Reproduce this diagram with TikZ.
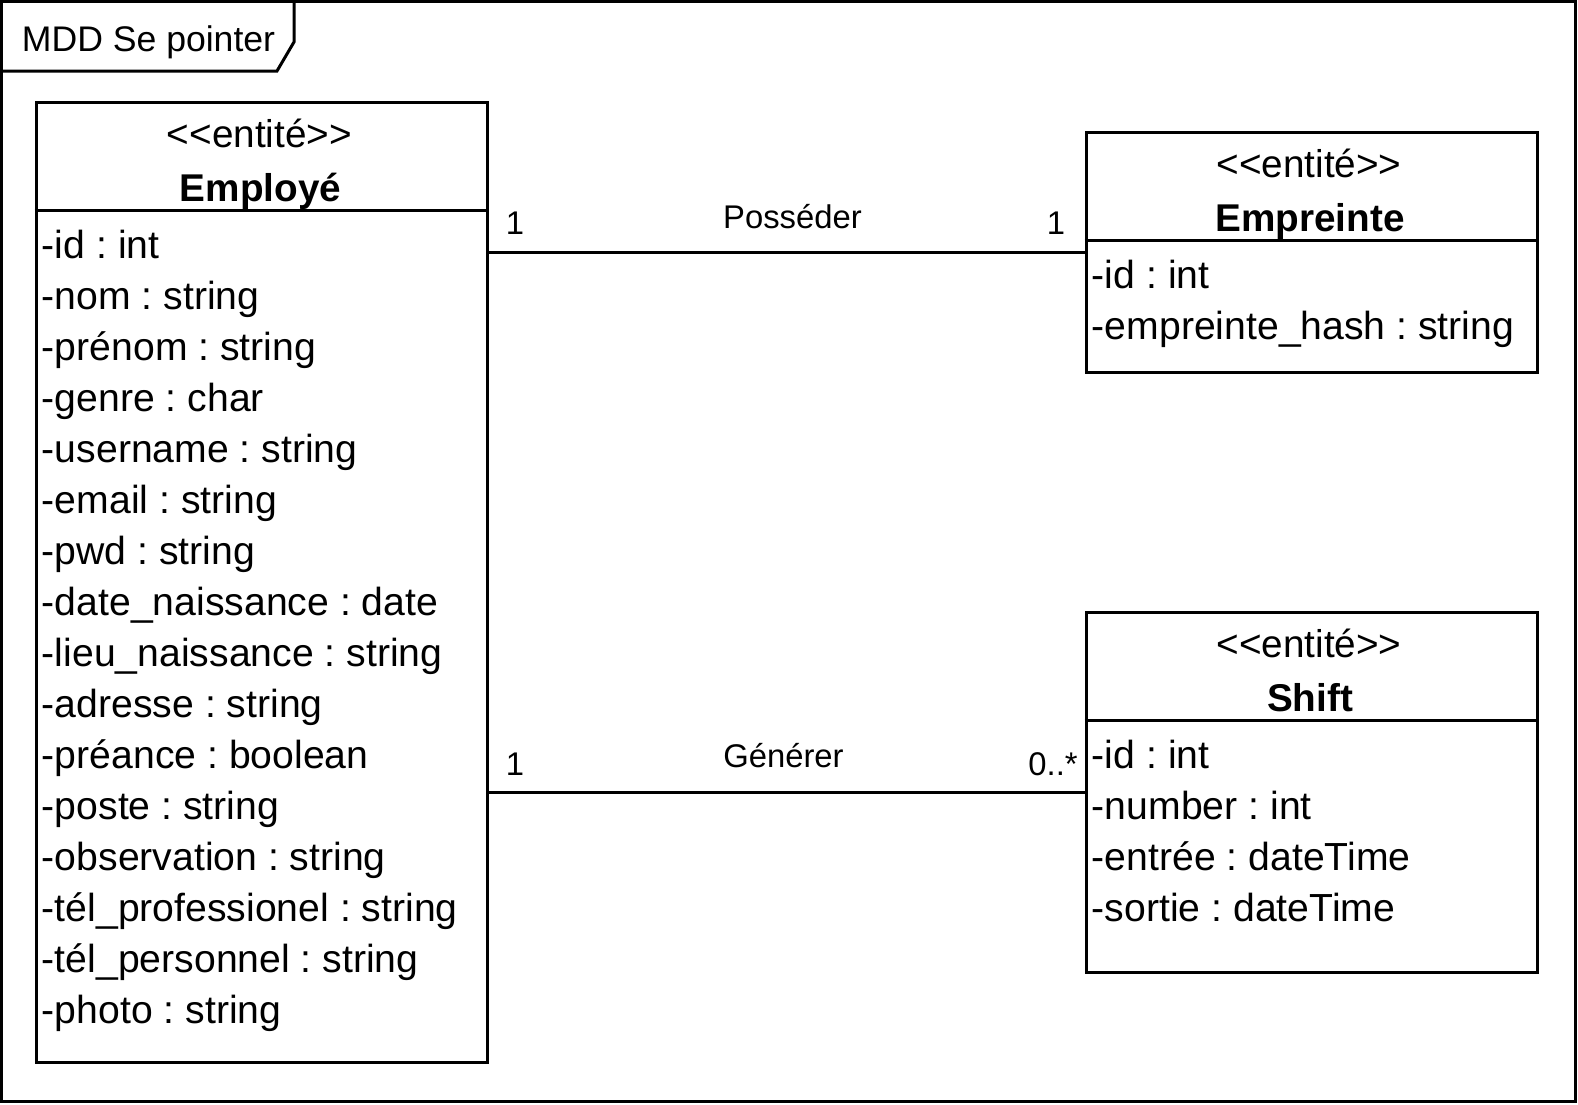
\documentclass[tikz,border=0pt]{standalone}
\usepackage{fontspec}
\setmainfont{Liberation Sans}
\newcommand{\ster}{<\kern0pt<entité>\kern0pt>}
\tikzset{
  box/.style={draw, line width=1.5pt, rectangle, inner sep=0pt},
  frameline/.style={line width=1.5pt},
  attr/.style={anchor=base west, inner sep=0pt, font=\fontsize{19.58pt}{23pt}\selectfont},
  stertext/.style={anchor=base, inner sep=0pt, font=\fontsize{19.35pt}{23pt}\selectfont},
  cname/.style={anchor=base, inner sep=0pt, font=\fontsize{19.35pt}{23pt}\selectfont\bfseries},
  lbl/.style={anchor=base, inner sep=0pt, font=\fontsize{16.4pt}{20pt}\selectfont},
  tabtext/.style={anchor=base west, inner sep=0pt, font=\fontsize{17.8pt}{21pt}\selectfont},
  conn/.style={line width=1.5pt},
}
\begin{document}
\frenchspacing
\begin{tikzpicture}[x=0.5pt,y=-0.5pt]
\useasboundingbox (0,0) rectangle (1578,1104);
% outer frame
\draw[frameline] (1.5,1.5) rectangle (1575.5,1101.5);
\draw[frameline] (1.5,71) -- (277,71) -- (294,42) -- (294,1.5);
\node[tabtext] (tab) at (21.5,51) {MDD Se pointer};

% Employe
\node[box, minimum width=225.5pt, minimum height=480pt] (employe) at (261.5,582) {};
\draw[frameline] (employe.west |- 0,210) -- (employe.east |- 0,210);
\node[stertext] (es) at (259.5,147.5) {\ster};
\node[cname] (en) at (260.5,201.5) {Employé};
\foreach \t [count=\i from 0] in {{-id : int},{-nom : string},{-prénom : string},{-genre : char},{-username : string},{-email : string},{-pwd : string},{-date\_naissance : date},{-lieu\_naissance : string},{-adresse : string},{-préance : boolean},{-poste : string},{-observation : string},{-tél\_professionel : string},{-tél\_personnel : string},{-photo : string}}
  \node[attr] (ea\i) at (41.5,258+51*\i) {\t};

% Empreinte
\node[box, minimum width=225.5pt, minimum height=120pt] (empreinte) at (1311.5,252) {};
\draw[frameline] (empreinte.west |- 0,240.5) -- (empreinte.east |- 0,240.5);
\node[stertext] (ps) at (1309,177.5) {\ster};
\node[cname] (pn) at (1310,231.5) {Empreinte};
\node[attr] (pa0) at (1091.5,288) {-id : int};
\node[attr] (pa1) at (1091.5,339) {-empreinte\_hash : string};

% Shift
\node[box, minimum width=225.5pt, minimum height=180pt] (shift) at (1311.5,792) {};
\draw[frameline] (shift.west |- 0,720.5) -- (shift.east |- 0,720.5);
\node[stertext] (ss) at (1309,657.5) {\ster};
\node[cname] (sn) at (1310,711.5) {Shift};
\foreach \t [count=\i from 0] in {{-id : int},{-number : int},{-entrée : dateTime},{-sortie : dateTime}}
  \node[attr] (sa\i) at (1091.5,768+51*\i) {\t};

% connectors
\draw[conn] (employe.east |- empreinte.west) -- (empreinte.west);
\draw[conn] (employe.east |- shift.west) -- (shift.west);

% labels
\node[lbl] (l1a) at (515,234) {1};
\node[lbl] (l1b) at (792.5,228) {Posséder};
\node[lbl] (l1c) at (1056,234) {1};
\node[lbl] (l2a) at (515,775) {1};
\node[lbl] (l2b) at (783.5,767) {Générer};
\node[lbl] (l2c) at (1053,775) {0..*};
\end{tikzpicture}
\end{document}
